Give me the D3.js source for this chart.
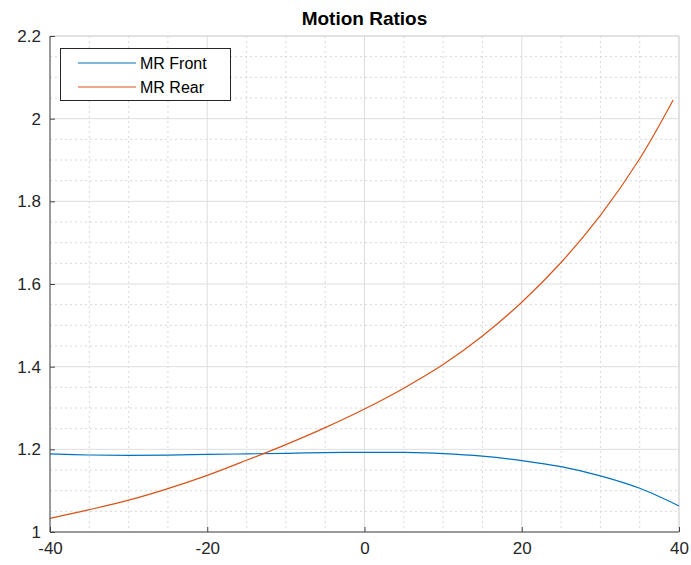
<!DOCTYPE html>
<html>
<head>
<meta charset="utf-8">
<script src="https://cdn.jsdelivr.net/npm/d3@7"></script>
<style>
  body { margin: 0; background: #fff; }
  text { font-family: "Liberation Sans", Arial, Helvetica, sans-serif; }
</style>
</head>
<body>
<svg id="draw-here"></svg>
<script>
// values
const xFront = [-40, -35, -30, -25, -20, -15, -10, -5, 0, 5, 10, 15, 20, 25, 30, 35, 40];
const mrFront = [1.1888, 1.1863, 1.1855, 1.186, 1.188, 1.189, 1.1904, 1.192, 1.1928, 1.1925, 1.1897, 1.1835, 1.1728, 1.158, 1.1358, 1.1057, 1.063];
const xRear = [-40, -35, -30, -25, -20, -15, -10, -5, 0, 5, 10, 15, 20, 25, 30, 35, 39.26];
const mrRear = [1.033, 1.054, 1.077, 1.105, 1.137, 1.1735, 1.2115, 1.2525, 1.2976, 1.348, 1.405, 1.474, 1.556, 1.652, 1.766, 1.903, 2.045];
const xTicks = [-40, -20, 0, 20, 40];
const yTicks = [1, 1.2, 1.4, 1.6, 1.8, 2, 2.2];
const seriesNames = ['MR Front', 'MR Rear'];

const width = 691, height = 565;
const pl = 50, pr = 679, pt = 36, pb = 532;
const colors = ['#0072BD', '#D95319'];

let svg = d3.select('#draw-here')
  .attr('width', width)
  .attr('height', height);

let x = d3.scaleLinear().domain([-40, 40]).range([pl, pr]);
let y = d3.scaleLinear().domain([1, 2.2]).range([pb, pt]);

// minor grid (dotted)
let xMinor = d3.range(-40, 40.01, 5).filter(v => v % 20 !== 0);
let yMinor = d3.range(0, 25).map(i => 1 + i * 0.05).filter(v => Math.abs(v * 5 - Math.round(v * 5)) > 1e-6);

let grid = svg.append('g');
grid.selectAll('.xminor').data(xMinor).enter().append('line')
  .attr('x1', d => x(d)).attr('x2', d => x(d))
  .attr('y1', pt).attr('y2', pb)
  .attr('stroke', '#d8d8d8').attr('stroke-dasharray', '2,3');
grid.selectAll('.yminor').data(yMinor).enter().append('line')
  .attr('x1', pl).attr('x2', pr)
  .attr('y1', d => y(d)).attr('y2', d => y(d))
  .attr('stroke', '#d8d8d8').attr('stroke-dasharray', '2,3');

// major grid
grid.selectAll('.xmajor').data(xTicks).enter().append('line')
  .attr('x1', d => x(d)).attr('x2', d => x(d))
  .attr('y1', pt).attr('y2', pb)
  .attr('stroke', '#dedede');
grid.selectAll('.ymajor').data(yTicks).enter().append('line')
  .attr('x1', pl).attr('x2', pr)
  .attr('y1', d => y(d)).attr('y2', d => y(d))
  .attr('stroke', '#dedede');

// box top/right
svg.append('path')
  .attr('d', `M${pl},${pt}H${pr}V${pb}`)
  .attr('fill', 'none').attr('stroke', '#d4d4d4');

// curves
let line = d3.line().curve(d3.curveCatmullRom.alpha(0.5));
let series = [
  xFront.map((v, i) => [x(v), y(mrFront[i])]),
  xRear.map((v, i) => [x(v), y(mrRear[i])])
];
svg.selectAll('.series').data(series).enter().append('path')
  .attr('d', d => line(d))
  .attr('fill', 'none')
  .attr('stroke', (d, i) => colors[i])
  .attr('stroke-width', 1.2);

// axes
let xAxis = d3.axisBottom(x).tickValues(xTicks).tickSize(-5).tickPadding(10).tickFormat(d => String(d));
let yAxis = d3.axisLeft(y).tickValues(yTicks).tickSize(-5).tickPadding(9).tickFormat(d => String(+d.toFixed(1)));

let gx = svg.append('g').attr('transform', `translate(0,${pb})`).call(xAxis);
let gy = svg.append('g').attr('transform', `translate(${pl},0)`).call(yAxis);
gx.select('.domain').attr('stroke', '#444').attr('d', `M${pl},0H${pr}`);
gy.select('.domain').attr('stroke', '#444').attr('d', `M0,${pb}V${pt}`);
[gx, gy].forEach(g => {
  g.selectAll('.tick line').attr('stroke', '#444');
  g.selectAll('.tick text').attr('fill', '#262626').style('font-size', '17px')
    .style('font-family', '"Liberation Sans", Arial, sans-serif');
});

// title
svg.append('text')
  .attr('x', (pl + pr) / 2).attr('y', 25)
  .attr('text-anchor', 'middle')
  .style('font-size', '19px').style('font-weight', 'bold')
  .attr('fill', '#000')
  .text('Motion Ratios');

// legend
let legend = svg.append('g');
legend.append('rect')
  .attr('x', 60.5).attr('y', 48.5).attr('width', 170).attr('height', 52)
  .attr('fill', '#fff').attr('stroke', '#262626');
let items = legend.selectAll('.item').data(seriesNames).enter().append('g')
  .attr('transform', (d, i) => `translate(0,${63 + i * 24})`);
items.append('line')
  .attr('x1', 78).attr('x2', 136)
  .attr('stroke', (d, i) => colors[i]).attr('stroke-width', 1.2);
items.append('text')
  .attr('x', 140).attr('y', 6)
  .style('font-size', '16px').attr('fill', '#000')
  .text(d => d);
</script>
</body>
</html>
